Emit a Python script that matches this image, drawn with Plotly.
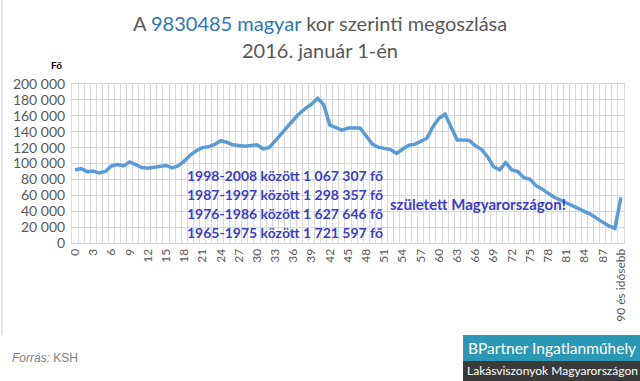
import plotly.graph_objects as go

ages = list(range(91))
age_labels = [str(a) for a in range(90)] + ["90 és idősebb"]
population = [
    92000, 93500, 89700, 90500, 88000, 90000, 96900, 98800, 97000, 102000,
    98500, 95000, 94000, 95500, 96500, 97500, 94500, 97000, 103000, 110700,
    116000, 120000, 121000, 124000, 128700, 126800, 123500, 122300, 121600, 122800,
    123500, 118500, 120000, 128500, 138000, 146000, 154700, 163000, 169400, 174800,
    182000, 174000, 148400, 145500, 142000, 144500, 145000, 144500, 134600, 124500,
    120500, 118500, 117500, 112800, 118000, 123000, 124000, 127500, 131700, 146300,
    156800, 162000, 146000, 129600, 129600, 129000, 122300, 117800, 108600, 96000,
    92000, 101000, 92000, 90000, 82200, 80000, 72100, 68000, 62500, 57500,
    54100, 50700, 46500, 43600, 39400, 36000, 31000, 26000, 21400, 18500,
    57500,
]
y_ticks = [0, 20000, 40000, 60000, 80000, 100000, 120000, 140000, 160000, 180000, 200000]
y_tick_text = ["0" if v == 0 else f"{v // 1000} 000" for v in y_ticks]
x_tick_idx = list(range(0, 90, 3)) + [90]

notes = [
    "1998-2008 között 1 067 307 fő",
    "1987-1997 között 1 298 357 fő",
    "1976-1986 között 1 627 646 fő",
    "1965-1975 között 1 721 597 fő",
]

W, H = 640, 381
L, R, T, B = 72, 624, 84, 243


def px(x):
    return (x - L) / (R - L)


def py(y):
    return (B - y) / (B - T)


fig = go.Figure()
fig.add_trace(go.Scatter(
    x=ages, y=population, mode="lines",
    line=dict(color="#5B9BD5", width=3.5),
    hoverinfo="skip", showlegend=False,
))

fig.update_layout(
    width=W, height=H,
    margin=dict(l=L, r=W - R, t=T, b=H - B, pad=0),
    paper_bgcolor="white", plot_bgcolor="white",
    font=dict(family="Lato, Carlito, sans-serif", color="#595959"),
    xaxis=dict(
        range=[-0.5, 90.5], tickmode="array",
        tickvals=x_tick_idx, ticktext=[age_labels[i] for i in x_tick_idx],
        tickangle=-90, tickfont=dict(size=12, color="#595959"),
        showgrid=False, zeroline=False, ticks="",
        showline=True, linecolor="#D9D9D9", linewidth=1,
        minor=dict(tickmode="linear", tick0=-0.5, dtick=1, showgrid=True,
                   gridcolor="#D9D9D9", gridwidth=1, ticks=""),
        mirror=True, fixedrange=True, automargin=False,
    ),
    yaxis=dict(
        range=[0, 200000], tickmode="array", tickvals=y_ticks, ticktext=y_tick_text,
        tickfont=dict(size=14, color="#595959"),
        showgrid=True, gridcolor="#D9D9D9", gridwidth=1, zeroline=False,
        showline=True, linecolor="#D9D9D9", mirror=True, ticks="",
        ticklabelstandoff=3, fixedrange=True, automargin=False,
    ),
)

ann = []
ann.append(dict(
    x=px(320), y=py(23), xref="paper", yref="paper", showarrow=False,
    text="A <span style='color:#2E75B6'>9830485 magyar</span> kor szerinti megoszlása",
    font=dict(size=20, color="#595959"), xanchor="center", yanchor="middle",
))
ann.append(dict(
    x=px(320), y=py(50), xref="paper", yref="paper", showarrow=False,
    text="2016. január 1-én", font=dict(size=20, color="#595959"),
    xanchor="center", yanchor="middle",
))
ann.append(dict(
    x=px(49), y=py(65), xref="paper", yref="paper", showarrow=False,
    text="<b>Fő</b>", font=dict(size=10, color="#000000"),
    xanchor="left", yanchor="middle",
))
for i, t in enumerate(notes):
    ann.append(dict(
        x=px(185), y=py(175 + i * 19), xref="paper", yref="paper", showarrow=False,
        text=f"<b>{t}</b>", font=dict(size=14, color="#3C3CCB"),
        xanchor="left", yanchor="middle",
    ))
ann.append(dict(
    x=px(388), y=py(204), xref="paper", yref="paper", showarrow=False,
    text="<b>született Magyarországon!</b>", font=dict(size=15, color="#3C3CCB"),
    xanchor="left", yanchor="middle",
))
ann.append(dict(
    x=px(10), y=py(358), xref="paper", yref="paper", showarrow=False,
    text="<i>Forrás:</i> KSH", font=dict(size=12, color="#7F7F7F",
                                          family="Liberation Sans, Arial, sans-serif"),
    xanchor="left", yanchor="middle",
))
ann.append(dict(
    x=px(552), y=py(348), xref="paper", yref="paper", showarrow=False,
    text="BPartner Ingatlanműhely",
    font=dict(size=15.5, color="white", family="Lato, sans-serif"),
    xanchor="center", yanchor="middle",
))
ann.append(dict(
    x=px(552), y=py(370), xref="paper", yref="paper", showarrow=False,
    text="Lakásviszonyok Magyarországon",
    font=dict(size=12, color="white", family="Lato, sans-serif"),
    xanchor="center", yanchor="middle",
))
fig.update_layout(annotations=ann)

fig.add_shape(type="rect", xref="paper", yref="paper",
              x0=px(463), x1=px(641), y0=py(361), y1=py(335),
              fillcolor="#2B97B4", line=dict(width=0), layer="above")
fig.add_shape(type="rect", xref="paper", yref="paper",
              x0=px(463), x1=px(641), y0=py(382), y1=py(361),
              fillcolor="#3A3A3A", line=dict(width=0), layer="above")
fig.add_shape(type="line", xref="paper", yref="paper",
              x0=px(2), x1=px(2), y0=py(0), y1=py(335),
              line=dict(color="#D0D0D0", width=1))

fig.write_html("out.html", config={"displayModeBar": False},
               post_script="document.body.style.margin='0';document.body.style.overflow='hidden';")
